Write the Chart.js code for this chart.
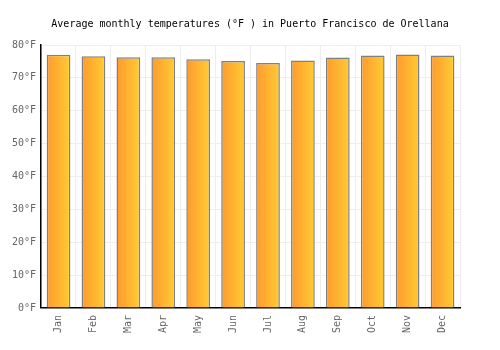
<!DOCTYPE html>
<html>
<head>
<meta charset="utf-8">
<script src="https://cdn.jsdelivr.net/npm/chart.js@4"></script>
<style>
  html, body { margin: 0; padding: 0; background: #fff; }
  #wrap { width: 500px; height: 350px; }
</style>
</head>
<body>
<div id="wrap"><canvas id="grafico"></canvas></div>
<script>
const meses = ['Jan', 'Feb', 'Mar', 'Apr', 'May', 'Jun', 'Jul', 'Aug', 'Sep', 'Oct', 'Nov', 'Dec'];
const temperaturas = [77.0, 76.6, 76.3, 76.3, 75.7, 75.1, 74.5, 75.3, 76.2, 76.8, 77.1, 76.8];
const ticksY = [0, 10, 20, 30, 40, 50, 60, 70, 80];

const larguraBarra = 0.68;

Chart.defaults.font.family = "'DejaVu Sans Mono', monospace";
Chart.defaults.font.size = 10;
Chart.defaults.color = "#666";

// gradiente horizontal em cada barra
function corBarra(ctx) {
    const chart = ctx.chart;
    const x = chart.scales.x;
    if (!x || !chart.chartArea) return '#ffaa33';
    const centro = x.getPixelForValue(ctx.dataIndex);
    const meia = (chart.chartArea.width / meses.length) * larguraBarra / 2;
    const g = chart.ctx.createLinearGradient(centro - meia, 0, centro + meia, 0);
    g.addColorStop(0, '#ff9a2e');
    g.addColorStop(1, '#ffcc33');
    return g;
}

new Chart(document.getElementById('grafico'), {
    type: 'bar',
    data: {
        labels: meses,
        datasets: [{
            data: temperaturas,
            backgroundColor: corBarra,
            borderColor: '#808080',
            borderWidth: 1.5,
            barPercentage: larguraBarra,
            categoryPercentage: 1
        }]
    },
    options: {
        responsive: true,
        maintainAspectRatio: false,
        animation: false,
        layout: { padding: { left: 7, right: 7, top: 0, bottom: 10 } },
        plugins: {
            legend: { display: false },
            tooltip: { enabled: false },
            title: {
                display: true,
                text: 'Average monthly temperatures (°F ) in Puerto Francisco de Orellana',
                color: '#000',
                font: { size: 10, weight: 'normal' },
                padding: { top: 18, bottom: 15 }
            }
        },
        scales: {
            x: {
                grid: { color: '#eeeeee', offset: true, drawTicks: false },
                border: { color: '#000', width: 1.5 },
                ticks: { maxRotation: 90, minRotation: 90, padding: 7, color: '#666' }
            },
            y: {
                min: 0,
                max: 80,
                afterBuildTicks: (eixo) => { eixo.ticks = ticksY.map(v => ({ value: v })); },
                grid: { color: '#eeeeee', drawTicks: false },
                border: { color: '#000', width: 1.5 },
                ticks: { padding: 5, color: '#666', callback: (v) => v + '°F' }
            },
            // eixo vazio só para deixar a margem direita
            direita: {
                position: 'right',
                grid: { display: false },
                border: { display: false },
                ticks: { display: false },
                afterFit: (eixo) => { eixo.width = 33; }
            }
        }
    }
});
</script>
</body>
</html>
